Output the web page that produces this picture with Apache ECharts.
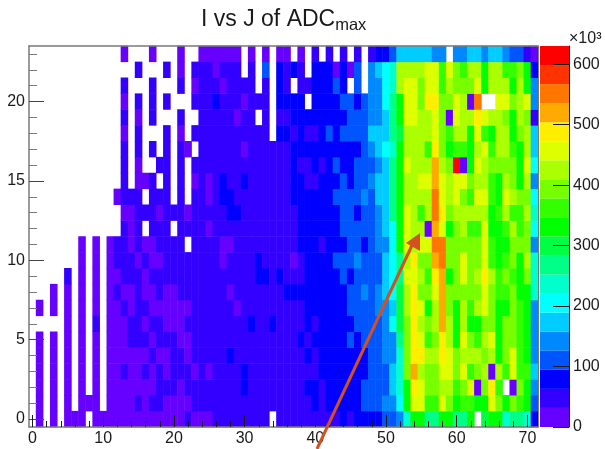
<!DOCTYPE html>
<html><head><meta charset="utf-8">
<style>html,body{margin:0;padding:0;background:#fff}#c{width:605px;height:449px}</style>
<script src="https://cdn.jsdelivr.net/npm/echarts@6/dist/echarts.min.js"></script>
</head><body><div id="c"></div>
<script>
// Cell contents (ADC, in thousands); 0 = empty bin, not drawn. Index = J column 0..71.
const row00=[0,16,0,16,0,16,16,16,0,16, 16,16,16,16,16,16,16,16,16,16, 16,16,47,16,16,16,47,47,47,47, 47,47,47,47,0,47,47,47,47,47, 47,47,47,47,79,47,79,79,79,79, 110,110,142,236,331,331,268,268,331,331, 268,268,331,0,299,331,331,236,268,268, 236,79];
const row01=[0,16,0,16,0,16,0,16,16,16, 0,16,16,16,16,47,16,47,47,16, 16,16,16,47,47,47,47,47,47,47, 47,47,47,47,47,47,47,47,47,47, 79,47,79,79,79,79,79,110,110,110, 142,142,205,331,457,457,362,362,457,394, 331,362,362,331,331,457,394,331,394,362, 331,110];
const row02=[0,16,0,16,0,16,0,16,0,16, 0,16,16,16,16,16,16,16,47,47, 47,16,47,47,47,47,47,47,47,47, 79,47,47,47,47,47,47,47,47,79, 79,47,79,79,79,79,79,110,110,110, 110,173,236,331,488,457,394,394,425,425, 362,394,457,16,394,488,362,0,16,394, 331,142];
const row03=[0,16,0,16,0,16,0,16,0,16, 0,16,16,47,16,16,47,16,47,16, 47,47,47,16,47,16,47,47,47,47, 79,47,47,47,47,47,47,47,47,47, 47,79,79,79,79,79,79,79,110,110, 110,173,236,394,520,425,394,394,457,457, 394,457,362,394,425,16,425,362,457,362, 362,173];
const row04=[0,16,0,16,0,16,0,16,0,16, 0,16,16,16,16,16,16,47,16,16, 47,47,16,47,47,47,47,47,79,47, 47,47,47,47,47,47,47,47,47,79, 47,79,79,79,79,79,79,79,110,110, 142,142,236,394,488,488,425,425,488,457, 394,425,425,425,394,425,331,394,457,362, 331,142];
const row05=[0,16,0,16,0,16,0,16,0,16, 0,16,16,16,47,47,47,16,47,47, 47,16,16,47,47,47,47,47,47,47, 47,47,47,47,47,47,47,47,79,47, 79,79,79,79,79,110,79,110,110,110, 142,142,268,394,488,457,362,394,488,425, 331,457,394,362,425,457,331,394,394,362, 331,142];
const row06=[0,0,0,0,0,16,0,16,0,47, 0,16,16,16,47,47,16,47,47,16, 16,16,47,47,47,47,47,47,47,47, 47,79,47,47,79,47,47,47,47,79, 47,79,79,79,79,79,110,110,110,110, 142,205,299,394,488,425,394,425,520,425, 331,425,331,331,394,394,331,394,394,362, 331,142];
const row07=[0,16,0,16,0,16,0,16,0,16, 0,16,16,47,16,47,47,16,16,16, 16,16,16,47,47,47,47,47,47,16, 47,47,47,47,47,47,47,47,47,79, 79,79,79,79,79,110,110,110,110,142, 142,173,299,425,488,457,331,425,520,394, 331,425,362,425,457,394,331,331,394,362, 331,142];
const row08=[0,0,0,16,0,16,0,16,0,16, 0,16,47,16,16,47,16,16,47,16, 16,47,47,47,47,47,47,47,16,47, 47,47,47,47,47,47,79,79,79,79, 79,79,79,79,79,110,110,142,110,142, 173,205,299,425,488,394,394,457,520,394, 394,394,394,394,457,394,362,362,394,331, 331,236];
const row09=[0,0,0,0,0,47,0,16,0,16, 0,16,16,47,47,47,16,47,47,47, 47,47,47,47,47,47,47,47,47,47, 47,47,79,79,47,79,47,47,47,79, 79,79,79,79,110,79,110,110,110,110, 173,205,268,457,457,425,362,488,520,331, 394,457,394,425,488,425,362,394,362,331, 394,236];
const row10=[0,0,0,0,0,0,0,16,0,16, 0,16,47,47,47,16,47,16,16,47, 47,47,47,47,47,47,47,16,47,47, 47,47,79,47,47,47,47,16,47,79, 79,79,79,110,110,110,142,110,110,110, 173,205,268,425,488,394,394,520,551,394, 394,457,394,394,457,362,331,362,394,331, 425,236];
const row11=[0,0,0,0,0,0,0,16,0,16, 0,16,47,47,16,47,16,16,47,47, 47,47,0,47,47,47,47,16,16,47, 47,47,47,47,47,47,47,47,79,79, 79,47,79,79,79,110,110,79,110,142, 142,205,331,457,425,457,457,551,551,394, 394,394,394,394,457,362,331,331,394,394, 394,142];
const row12=[0,0,0,0,0,0,0,0,0,0, 0,0,0,47,16,47,0,47,47,47, 0,47,47,47,47,16,47,47,47,47, 47,47,47,47,47,47,47,47,79,79, 79,79,79,79,110,110,110,110,110,142, 173,205,331,457,425,425,16,520,457,331, 394,425,362,362,457,331,331,362,425,362, 394,205];
const row13=[0,0,0,0,0,0,0,0,0,0, 0,0,0,16,16,47,47,47,16,47, 47,47,16,47,47,47,47,47,79,79, 47,47,47,47,47,47,47,47,79,79, 79,79,79,79,110,110,79,110,110,142, 173,268,331,457,425,362,425,551,488,394, 425,425,425,425,425,331,362,425,362,362, 425,236];
const row14=[0,0,0,0,0,0,0,0,0,0, 0,0,16,47,47,47,0,47,47,47, 0,47,0,47,47,16,47,79,79,47, 47,47,47,47,47,47,47,79,79,79, 79,79,79,110,110,110,110,142,110,173, 173,268,331,425,425,425,425,551,457,425, 457,394,362,457,457,362,331,457,425,394, 394,205];
const row15=[0,0,0,0,0,0,0,0,0,0, 0,0,0,47,0,16,16,47,0,47, 0,47,0,16,47,16,47,79,47,47, 79,47,47,47,47,47,47,79,79,47, 47,79,79,79,110,79,110,110,142,173, 173,268,331,425,425,457,457,520,457,425, 457,457,394,425,425,362,331,425,394,331, 425,142];
const row16=[0,0,0,0,0,0,0,0,0,0, 0,0,0,47,0,16,0,0,47,47, 0,47,0,47,47,47,47,47,47,47, 47,47,47,47,47,47,47,79,47,47, 79,47,79,110,79,79,110,110,110,142, 173,268,331,457,425,425,425,520,425,394, 614,16,331,457,425,394,394,394,394,331, 457,205];
const row17=[0,0,0,0,0,0,0,0,0,0, 0,0,0,47,0,47,0,47,0,47, 0,47,16,0,47,47,47,47,47,47, 16,47,47,47,47,47,47,79,79,79, 79,79,79,79,79,79,79,110,142,173, 205,236,331,425,425,425,362,488,394,331, 362,362,331,425,457,362,425,425,362,331, 425,173];
const row18=[0,0,0,0,0,0,0,0,0,0, 0,0,0,16,0,47,0,0,0,47, 0,16,0,47,47,47,47,47,47,47, 47,47,47,47,0,79,79,47,79,47, 47,79,110,79,110,110,110,110,173,173, 173,268,299,425,425,425,425,457,394,362, 425,425,331,457,362,331,425,425,331,394, 425,173];
const row19=[0,0,0,0,0,0,0,0,0,0, 0,0,0,47,0,16,0,47,0,0, 0,47,0,0,47,47,47,47,47,16, 47,47,0,47,0,47,47,79,79,79, 79,79,79,79,79,110,110,110,142,142, 173,268,331,457,457,425,425,457,394,16, 457,425,425,488,457,425,425,394,331,425, 394,47];
const row20=[0,0,0,0,0,0,0,0,0,0, 0,0,0,16,0,47,0,47,0,47, 0,0,0,47,47,47,79,47,47,47, 16,47,47,47,0,79,79,79,79,0, 79,79,79,79,110,110,79,110,142,142, 205,268,331,457,457,394,488,488,394,394, 457,425,16,551,0,0,457,457,394,425, 457,142];
const row21=[0,0,0,0,0,0,0,0,0,0, 0,0,0,47,0,0,0,47,0,0, 0,47,0,16,47,47,47,16,47,47, 47,47,0,47,0,79,47,0,47,47, 79,79,79,110,79,0,110,0,142,142, 205,236,425,457,457,394,457,457,362,425, 394,394,394,457,331,425,425,425,331,425, 331,142];
const row22=[0,0,0,0,0,0,0,0,0,0, 0,0,0,0,0,47,0,0,0,47, 0,16,0,47,47,47,16,47,47,47, 0,47,0,110,0,79,47,79,47,0, 79,79,79,16,79,16,110,0,142,173, 205,236,425,425,425,425,457,457,362,457, 394,362,425,425,331,425,425,362,362,394, 331,79];
const row23=[0,0,0,0,0,0,0,0,0,0, 0,0,0,16,0,0,0,16,0,0, 0,16,0,0,16,16,16,16,16,16, 0,16,0,16,0,16,16,0,16,0, 47,0,47,0,47,0,47,0,47,79, 79,110,173,173,173,173,173,142,142,0, 142,142,173,173,142,173,173,142,110,110, 47,16];
const rows=[row00,row01,row02,row03,row04,row05,row06,row07,row08,row09,row10,row11,row12,row13,row14,row15,row16,row17,row18,row19,row20,row21,row22,row23];

const xCategories=Array.from({length:72},(_,i)=>String(i));
const yCategories=Array.from({length:24},(_,i)=>String(i));
const paletteColors=['#6600ff','#3300ff','#0000ff','#0055ff','#0088ff','#00ccff','#00ffff','#00ffcc','#00ff88','#00ff44','#00ff00','#33ff00','#77ff00','#aaff00','#ddff00','#ffee00','#ffaa00','#ff7700','#ff3300','#ff0000'];
const zMax=630;
const paletteTicks=[0,100,200,300,400,500,600];
const titleText='I vs J of ADC';
const titleSub='max';

const step=zMax/paletteColors.length;
const cells=[];
rows.forEach((r,y)=>r.forEach((v,x)=>{if(v>0)cells.push([x,y,v]);}));
const FONT='"Liberation Sans",Arial,sans-serif';
const INK='#1a1a1a';
const FRAME='#7a7a7a';
const labelStyle={fontFamily:FONT,fontSize:16,color:INK};
const noLine={show:false};

const xBase={type:'category',data:xCategories,gridIndex:0,position:'bottom',boundaryGap:true,z:6};
const yBase={type:'category',data:yCategories,gridIndex:0,position:'left',boundaryGap:true,z:6};

const colorSeries=paletteColors.map((c,i)=>({
  type:'bar',stack:'pal',xAxisIndex:3,yAxisIndex:3,data:[step],barWidth:'100%',
  itemStyle:{color:c},silent:true,animation:false
}));

const chart=echarts.init(document.getElementById('c'),null,{renderer:'canvas'});
chart.setOption({
  animation:false,
  backgroundColor:'#fff',
  title:{
    text:titleText+'{sub|'+titleSub+'}',left:196,top:1,
    textStyle:{fontFamily:FONT,fontSize:23,fontWeight:'normal',color:INK,
      rich:{sub:{fontFamily:FONT,fontSize:16.5,color:INK,padding:[11,0,0,0]}}}
  },
  grid:[
    {left:29,top:46,width:509,height:381,containLabel:false},
    {left:540,top:46,width:29,height:381,containLabel:false}
  ],
  xAxis:[
    {...xBase,axisLine:{lineStyle:{color:FRAME,width:1.5}},axisLabel:{show:false},
      axisTick:{show:true,alignWithLabel:true,inside:true,length:6,interval:(i)=>i%2===0,lineStyle:{color:INK}},splitLine:noLine},
    {...xBase,axisLine:noLine,axisLabel:{...labelStyle,margin:4,interval:(i)=>i%10===0},
      axisTick:{show:true,alignWithLabel:true,inside:true,length:12,interval:(i)=>i%10===0,lineStyle:{color:INK}},splitLine:noLine},
    {...xBase,position:'top',axisLine:{lineStyle:{color:FRAME,width:1.5}},axisLabel:{show:false},axisTick:noLine,splitLine:noLine},
    {type:'category',gridIndex:1,data:['z'],axisLine:noLine,axisTick:noLine,axisLabel:{show:false},splitLine:noLine}
  ],
  yAxis:[
    {...yBase,axisLine:{lineStyle:{color:FRAME,width:1.5}},axisLabel:{show:false},
      axisTick:{show:true,alignWithLabel:true,inside:true,length:8,interval:0,lineStyle:{color:FRAME}},splitLine:noLine},
    {...yBase,axisLine:noLine,axisLabel:{...labelStyle,margin:4,interval:(i)=>i%5===0},
      axisTick:{show:true,alignWithLabel:true,inside:true,length:15,interval:(i)=>i%5===0,lineStyle:{color:'#444'}},splitLine:noLine},
    {...yBase,position:'right',axisLine:{lineStyle:{color:FRAME,width:1}},axisLabel:{show:false},axisTick:noLine,splitLine:noLine},
    {type:'value',gridIndex:1,position:'right',min:0,max:zMax,z:6,
      name:'×10³',nameLocation:'end',nameGap:-1,
      nameTextStyle:{fontFamily:FONT,fontSize:16,color:INK,align:'left',verticalAlign:'bottom'},
      axisLine:{show:true,lineStyle:{color:INK,width:1}},
      axisTick:{show:true,inside:true,length:16,customValues:paletteTicks,lineStyle:{color:INK}},
      axisLabel:{...labelStyle,margin:4,customValues:paletteTicks},
      splitLine:noLine}
  ],
  visualMap:{
    type:'piecewise',show:false,seriesIndex:0,dimension:2,
    pieces:paletteColors.map((c,i)=>({min:i*step,max:(i+1)*step,color:c}))
  },
  series:[
    {type:'heatmap',xAxisIndex:0,yAxisIndex:0,data:cells,z:2,silent:true,progressive:0,animation:false,itemStyle:{borderWidth:0},emphasis:{disabled:true}},
    ...colorSeries
  ],
  graphic:[
    {type:'line',z:100,shape:{x1:317,y1:449,x2:414,y2:241},style:{stroke:'#d4501f',lineWidth:3}},
    {type:'polygon',z:100,shape:{points:[[420,233],[406,243],[420,251]]},style:{fill:'#d4501f'}}
  ]
});
</script></body></html>
